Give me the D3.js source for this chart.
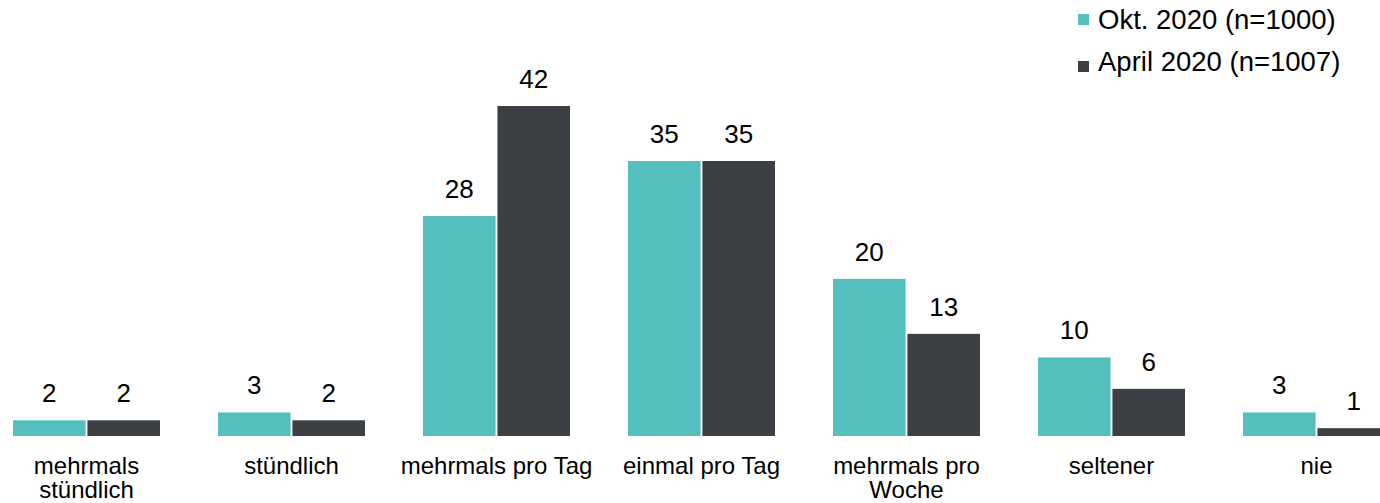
<!DOCTYPE html>
<html>
<head>
<meta charset="utf-8">
<script src="https://cdn.jsdelivr.net/npm/d3@7"></script>
<style>
  body { margin: 0; background: #fff; }
  text { font-family: "Liberation Sans", Arial, sans-serif; fill: #000; }
</style>
</head>
<body>
<div class="diagram"></div>
<script>
let categories = [["mehrmals", "stündlich"], ["stündlich"], ["mehrmals pro Tag"], ["einmal pro Tag"], ["mehrmals pro", "Woche"], ["seltener"], ["nie"]];
let seriesNames = ["Okt. 2020 (n=1000)", "April 2020 (n=1007)"];
let okt2020 = [2, 3, 28, 35, 20, 10, 3];
let april2020 = [2, 2, 42, 35, 13, 6, 1];
let colors = ["#55bebe", "#3c3f44"];

var width = 1380;
var height = 503;
var baseline = 436;

let svg = d3.select('.diagram')
    .append('svg')
    .attr('width', width)
    .attr('height', height)

let x0 = d3.scaleBand()
    .domain(d3.range(categories.length))
    .range([-16, 1419])
    .paddingInner(0.283)
    .paddingOuter(0.1415)

let x1 = d3.scaleBand()
    .domain([0, 1])
    .range([0, x0.bandwidth()])
    .paddingInner(0.025)

let y = d3.scaleLinear()
    .domain([0, 42])
    .range([baseline, 106])

let series = [okt2020, april2020];

let groups = svg.selectAll('.group')
    .data(categories)
    .enter().append('g')
    .attr('class', 'group')
    .attr('transform', (d, i) => 'translate(' + x0(i) + ',0)')

series.forEach((vals, s) => {
    groups.append('rect')
        .attr('x', x1(s))
        .attr('y', (d, i) => y(vals[i]))
        .attr('width', x1.bandwidth())
        .attr('height', (d, i) => baseline - y(vals[i]))
        .attr('fill', colors[s])

    groups.append('text')
        .attr('x', x1(s) + x1.bandwidth() / 2)
        .attr('y', (d, i) => y(vals[i]) - 18)
        .attr('text-anchor', 'middle')
        .style('font-size', '26px')
        .text((d, i) => vals[i])
})

// category labels, some on two lines
groups.each(function(lines) {
    let t = d3.select(this).append('text')
        .attr('text-anchor', 'middle')
        .style('font-size', '24px')
    lines.forEach((line, k) => {
        t.append('tspan')
            .attr('x', x0.bandwidth() / 2)
            .attr('y', 474 + k * 24)
            .text(line)
    })
})

let legend = svg.append('g')
    .attr('transform', 'translate(1078,0)')

seriesNames.forEach((name, i) => {
    legend.append('rect')
        .attr('x', 0)
        .attr('y', 14 + i * 47)
        .attr('width', 11)
        .attr('height', 11)
        .attr('fill', colors[i])
    legend.append('text')
        .attr('x', 20)
        .attr('y', 29 + i * 42)
        .style('font-size', '27.5px')
        .text(name)
})
</script>
</body>
</html>
